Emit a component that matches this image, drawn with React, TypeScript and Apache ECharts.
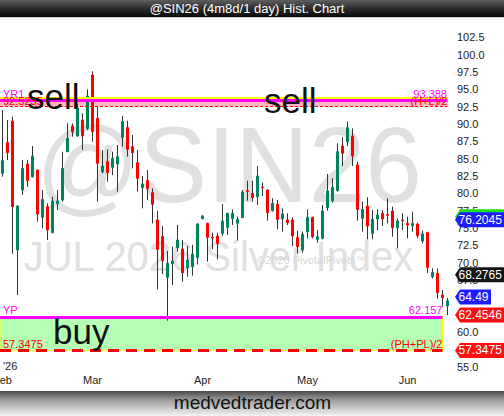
import React, { useEffect, useRef } from "react";
import * as echarts from "echarts";

// ---- calendar (categories) ----
const FIRST_DAY = "2026-02-03";
const LAST_DAY = "2026-06-11";
const HOLIDAYS = ["2026-02-16", "2026-04-03", "2026-05-25"];
const MONTHS = ["Jan", "Feb", "Mar", "Apr", "May", "Jun", "Jul", "Aug", "Sep", "Oct", "Nov", "Dec"];

function buildDates(): string[] {
  const out: string[] = [];
  const d = new Date(FIRST_DAY + "T00:00:00Z");
  const end = new Date(LAST_DAY + "T00:00:00Z");
  while (d <= end) {
    const wd = d.getUTCDay();
    const s = d.toISOString().slice(0, 10);
    if (wd !== 0 && wd !== 6 && HOLIDAYS.indexOf(s) < 0) out.push(s);
    d.setUTCDate(d.getUTCDate() + 1);
  }
  return out;
}
const dates = buildDates();

// ---- OHLC values ----
const opens = [
  82.89, 87.31, 90.43, 71.83, 80.48, 84.23, 82.4, 83.37, 76.54, 78.08,
  74.33, 78.51, 79.04, 86.0, 89.71, 88.27, 90.58, 89.37, 97.06, 90.82,
  83.1, 84.57, 83.75, 84.23, 88.08, 89.47, 86.73, 84.42, 80.82, 81.83,
  80.1, 76.16, 73.75, 67.89, 69.86, 72.17, 71.97, 69.28, 69.43, 70.77,
  76.35, 75.68, 73.66, 73.85, 74.23, 75.1, 76.35, 75.67, 76.49, 80.39,
  80.0, 79.52, 80.91, 80.48, 77.5, 78.42, 76.35, 76.16, 76.16, 73.61,
  71.83, 74.47, 76.54, 73.37, 73.51, 77.93, 78.94, 80.39, 86.83, 87.45,
  88.27, 84.09, 76.4, 78.17, 74.23, 76.3, 77.12, 76.93, 77.45, 75.05,
  76.16, 75.67, 75.34, 75.58, 73.13, 74.33, 67.98, 68.46, 65.34, 63.75,
];
const closes = [
  84.71, 85.86, 78.08, 78.17, 83.6, 81.83, 85.38, 77.02, 79.13, 74.71,
  78.9, 78.9, 83.6, 87.93, 88.89, 92.35, 88.27, 94.04, 88.89, 84.33,
  83.94, 82.98, 85.05, 85.29, 90.33, 86.35, 85.86, 82.16, 81.35, 80.72,
  78.42, 71.93, 70.29, 69.91, 70.24, 73.27, 68.56, 70.39, 71.25, 75.58,
  76.73, 73.66, 73.56, 72.79, 76.01, 77.12, 77.12, 76.25, 80.19, 80.29,
  79.38, 82.5, 80.82, 77.21, 78.56, 76.25, 77.02, 75.77, 73.85, 72.31,
  74.09, 76.54, 73.75, 73.75, 77.45, 80.34, 80.87, 86.01, 85.77, 89.47,
  85.38, 77.69, 77.69, 75.29, 76.25, 76.88, 76.3, 76.83, 75.05, 76.01,
  76.06, 75.43, 75.67, 73.9, 74.14, 69.33, 68.56, 65.7, 64.96, 64.49,
];
const lows = [
  82.4, 84.81, 71.3, 65.34, 79.76, 80.96, 82.3, 75.92, 74.95, 73.27,
  74.23, 77.6, 78.8, 86.0, 88.17, 88.17, 86.25, 89.13, 87.45, 78.8,
  82.88, 81.68, 82.64, 80.24, 86.73, 85.29, 83.61, 80.24, 77.84, 79.04,
  75.68, 66.16, 68.37, 61.64, 66.78, 71.59, 67.26, 67.98, 68.13, 69.76,
  76.25, 70.15, 71.93, 70.48, 73.85, 73.99, 75.43, 73.18, 76.49, 78.94,
  78.8, 78.32, 79.62, 76.06, 77.36, 74.81, 74.47, 75.43, 72.41, 71.35,
  71.45, 73.51, 73.51, 72.89, 73.37, 77.5, 78.65, 80.24, 83.94, 86.83,
  83.94, 76.06, 74.47, 73.37, 73.37, 74.71, 75.29, 75.67, 73.75, 72.07,
  74.71, 73.51, 74.47, 73.51, 72.79, 68.5, 67.74, 64.8, 63.66, 62.45,
];
const highs = [
  92.02, 90.58, 91.06, 78.3, 84.81, 84.81, 86.83, 83.4, 80.48, 78.56,
  79.52, 80.48, 86.0, 90.09, 90.09, 92.98, 91.54, 94.99, 97.6, 92.5,
  86.25, 86.35, 86.0, 86.97, 91.15, 90.48, 88.41, 86.25, 82.5, 83.37,
  80.72, 77.5, 75.29, 71.69, 72.31, 75.44, 73.27, 72.41, 72.55, 75.68,
  76.88, 75.77, 74.33, 74.33, 78.46, 77.21, 77.69, 76.64, 80.48, 81.83,
  81.83, 83.94, 81.54, 80.58, 79.28, 79.04, 77.84, 77.12, 76.54, 74.62,
  74.47, 77.69, 76.64, 74.71, 78.32, 82.79, 82.16, 87.21, 88.08, 90.33,
  89.37, 84.57, 78.8, 79.42, 77.6, 77.69, 77.6, 79.28, 78.08, 76.4,
  77.12, 76.64, 77.36, 75.77, 74.62, 74.47, 69.19, 69.19, 66.06, 64.91,
];

// ---- levels ----
const R1 = 93.388;
const R1_EDGE = 93.77;
const HL2 = 92.5235;
const YP = 62.157;
const PHPL2 = 57.3475;

// ---- axis ----
const Y_MIN = 55;
const Y_MAX = 105;
const Y_STEP = 2.5;

// ---- right-side price tags ----
const tagValues = [76.2045, 68.2765, 64.49, 62.4546, 57.3475];
const tagLabels = ["76.2045", "68.2765", "64.49", "62.4546", "57.3475"];
const tagColors = ["#1c1cff", "#151515", "#1c1cff", "#ff1010", "#ff1010"];
const shadowTagValue = 76.63;

const FONT = "'Liberation Sans', Arial, Helvetica, sans-serif";

function textWidth12(s: string): number {
  let w = 0;
  for (const c of s) w += c === "." ? 3.34 : 6.67;
  return w;
}

export default function App() {
  const ref = useRef<HTMLDivElement>(null);

  useEffect(() => {
    if (!ref.current) return;
    const chart = echarts.init(ref.current, undefined, { renderer: "svg" });

    const up = "#00835f";
    const down = "#ff0000";
    const wickColor = "#333333";
    const bodies = dates.map((_, i) => [
      opens[i], closes[i], Math.min(opens[i], closes[i]), Math.max(opens[i], closes[i]),
    ]);
    const wicks = dates.map((_, i) => [opens[i], closes[i], lows[i], highs[i]]);
    const pinkEnd = dates[dates.length - 1];
    const greenEnd = dates[dates.length - 2];

    const lvl = (
      value: number, color: string, width: number, type: any, endDate: string,
      startText: string, endText: string, sd: number[], ed: number[]
    ) => {
      const lab = (text: string, pos: string, dist: number[]) => ({
        show: !!text, formatter: text, position: pos, color, fontSize: 11,
        fontFamily: FONT, distance: dist,
      });
      return [
        [
          { x: 0, yAxis: value, lineStyle: { color, width, type, opacity: 1 }, label: lab(startText, "insideStartTop", sd) },
          { xAxis: endDate, yAxis: value },
        ],
        [
          { x: 0, yAxis: value, lineStyle: { color: "rgba(0,0,0,0)", width: 1, opacity: 1 }, label: lab(endText, "insideEndTop", ed) },
          { xAxis: endDate, yAxis: value },
        ],
      ];
    };

    const markLines: any[] = [
      ...lvl(R1_EDGE, "#ffff00", 2, "solid", pinkEnd, "", "", [0, 0], [0, 0]).slice(0, 1),
      ...lvl(R1, "#ff00ff", 3, "solid", pinkEnd, "YR1", "93.388", [3, 1.5], [0.5, 1.5]),
      ...lvl(HL2, "#ff0000", 1, [3, 2], pinkEnd, "92.5235", "(H+L)/2", [3, 0.5], [0, 0.5]),
      ...lvl(YP, "#ff00ff", 3, "solid", greenEnd, "YP", "62.157", [3, 1.2], [0, 1.2]),
      ...lvl(PHPL2, "#ff0000", 3, [11, 7], greenEnd, "57.3475", "(PH+PL)/2", [3, 1.2], [0, 1.2]),
    ];

    const tx = (text: string, x: number, y: number, size: number, fill: string, align: string, z: number, scaleX = 1) => ({
      type: "text", x, y, scaleX, z, silent: true,
      style: { text, fontSize: size, fontFamily: FONT, fill, align, verticalAlign: "middle", textAlign: align, textVerticalAlign: "middle" },
    });

    const baseGraphic: any[] = [
      tx("@SIN26", 229, 165, 107, "#e0e0e0", "center", 0, 0.95),
      tx("JUL 2026 Silver Index", 218.5, 256, 43, "#e0e0e0", "center", 0, 0.93),
      tx("©2020 PivotalPivots™", 257, 260, 11, "#d6d6d6", "left", 0),
      tx("sell", 27, 96, 35, "#111111", "left", 50),
      tx("sell", 264, 100.4, 35, "#111111", "left", 50),
      tx("buy", 53, 331.2, 35, "#111111", "left", 50),
      tx("'26", 3, 365.5, 11, "#222222", "left", 50),
      {
        type: "rect", z: 60, silent: true,
        shape: { x: 0, y: 0, width: 504, height: 17 },
        style: {
          fill: new echarts.graphic.LinearGradient(0, 0, 0, 1, [
            { offset: 0, color: "#5e5e5e" },
            { offset: 0.5, color: "#2c2c2c" },
            { offset: 1, color: "#0a0a0a" },
          ]),
        },
      },
      { type: "rect", z: 60, silent: true, shape: { x: 0, y: 17, width: 504, height: 1 }, style: { fill: "#cfcfcf" } },
      tx("@SIN26 (4m8d/1 day) Hist. Chart", 247, 8.8, 13, "#ffffff", "center", 61),
      {
        type: "rect", z: 60, silent: true,
        shape: { x: 0, y: 391, width: 504, height: 25 },
        style: {
          fill: new echarts.graphic.LinearGradient(0, 0, 0, 1, [
            { offset: 0, color: "#4a4a4a" },
            { offset: 0.35, color: "#9a9a9a" },
            { offset: 1, color: "#f4f4f4" },
          ]),
        },
      },
      tx("medvedtrader.com", 252.5, 402.7, 19, "#111111", "center", 61),
    ];

    let hiddenLabelValues: number[] = [];
    const yLabel = (v: number) => {
      for (const h of hiddenLabelValues) if (Math.abs(h - v) < 0.72) return "";
      return v.toFixed(1);
    };

    const option: any = {
      animation: false,
      backgroundColor: "#ffffff",
      grid: { left: 0, right: 54, top: 20, bottom: 49.3, containLabel: false, outerBoundsMode: "none" },
      xAxis: {
        type: "category",
        data: dates,
        boundaryGap: true,
        axisLine: { show: false },
        axisTick: { show: false },
        splitLine: { show: false },
        axisLabel: {
          margin: 8,
          color: "#222222",
          fontSize: 11,
          fontFamily: FONT,
          alignMinLabel: "center",
          alignMaxLabel: "center",
          hideOverlap: false,
          interval: (idx: number) => idx === 0 || dates[idx].slice(5, 7) !== dates[idx - 1].slice(5, 7),
          formatter: (v: string) => MONTHS[parseInt(v.slice(5, 7), 10) - 1],
        },
      },
      yAxis: {
        type: "value",
        position: "right",
        min: Y_MIN,
        max: Y_MAX,
        interval: Y_STEP,
        axisLine: { show: false },
        axisTick: { show: false },
        splitLine: { show: false },
        axisLabel: {
          margin: 7,
          color: "#222222",
          fontSize: 11,
          fontFamily: FONT,
          showMaxLabel: false,
          formatter: yLabel,
        },
      },
      series: [
        {
          type: "candlestick",
          name: "wick",
          z: 2,
          silent: true,
          barWidth: 1,
          data: wicks,
          itemStyle: { color: wickColor, color0: wickColor, borderColor: wickColor, borderColor0: wickColor, borderWidth: 1 },
        },
        {
          type: "candlestick",
          name: "body",
          z: 3,
          silent: true,
          barWidth: 2,
          data: bodies,
          itemStyle: { color: up, color0: down, borderColor: up, borderColor0: down, borderWidth: 1 },
          markArea: {
            silent: true,
            z: 1,
            data: [
              [{ x: 0, yAxis: R1, itemStyle: { color: "#ffb6c1" } }, { xAxis: pinkEnd, yAxis: HL2 }],
              [{ x: 0, yAxis: YP, itemStyle: { color: "#b5ffb5", borderColor: "#ffff00", borderWidth: 1 } }, { xAxis: greenEnd, yAxis: PHPL2 }],
            ],
          },
          markLine: {
            silent: true,
            z: 10,
            symbol: ["none", "none"],
            data: markLines,
          },
        },
      ],
      graphic: baseGraphic,
    };

    chart.setOption(option);

    // price tags on the right, placed through the value axis
    const tags = tagValues.map((v, i) => ({
      y: chart.convertToPixel({ yAxisIndex: 0 }, v) as number,
      color: tagColors[i],
      text: tagLabels[i],
    }));
    const sorted = [...tags].sort((a, b) => b.y - a.y);
    for (let i = 1; i < sorted.length; i++) {
      if (sorted[i - 1].y - sorted[i].y < 18) sorted[i].y = sorted[i - 1].y - 18;
    }
    hiddenLabelValues = tags.map((t) => chart.convertFromPixel({ yAxisIndex: 0 }, t.y) as number);

    const x0 = 455;
    const mkTag = (y: number, color: string, w: number) => ({
      type: "polygon", z: 80, silent: true,
      shape: { points: [[x0, y], [x0 + 5, y - 7.5], [x0 + w, y - 7.5], [x0 + w, y + 7.5], [x0 + 5, y + 7.5]] },
      style: { fill: color },
    });
    const tagEls: any[] = [];
    const shadowY = chart.convertToPixel({ yAxisIndex: 0 }, shadowTagValue) as number;
    tagEls.push(mkTag(shadowY, "#22dd22", 3.5 + textWidth12(tagLabels[0]) + 2.5));
    for (const t of tags) {
      const w = 3.5 + textWidth12(t.text) + 2.5;
      tagEls.push(mkTag(t.y, t.color, w));
      tagEls.push({ ...tx(t.text, x0 + 3.5, t.y, 12, "#ffffff", "left", 81) });
    }
    chart.setOption({
      yAxis: { axisLabel: { formatter: yLabel } },
      graphic: [...baseGraphic, ...tagEls],
    });

    return () => {
      chart.dispose();
    };
  }, []);

  return (
    <div
      ref={ref}
      style={{ position: "fixed", left: 0, top: 0, width: 504, height: 416, background: "#fff" }}
    />
  );
}
